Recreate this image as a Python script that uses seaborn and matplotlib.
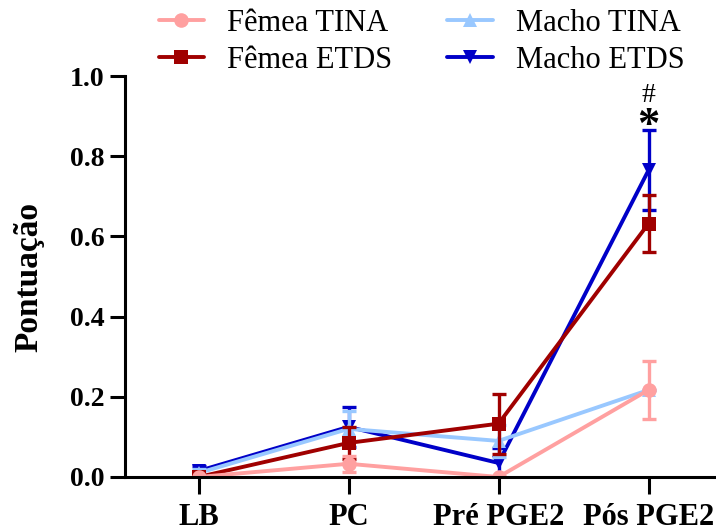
import matplotlib
matplotlib.use("Agg")
import matplotlib.pyplot as plt
import seaborn as sns
import numpy as np

# Data (mean +/- error)
time_points = ["LB", "PC", "Pré PGE2", "Pós PGE2"]

femea_tina = [0.0, 0.033, 0.0, 0.217]
femea_tina_err = [0.0, 0.02, 0.0, 0.073]

femea_etds = [0.0, 0.085, 0.133, 0.632]
femea_etds_err = [0.0, 0.04, 0.075, 0.072]

macho_tina = [0.01, 0.12, 0.09, 0.217]
macho_tina_err = [0.01, 0.045, 0.04, 0.0]

macho_etds = [0.015, 0.125, 0.035, 0.765]
macho_etds_err = [0.012, 0.05, 0.037, 0.1]

sns.set_style("ticks")
plt.rcParams["font.family"] = ["Liberation Serif", "DejaVu Serif"]
plt.rcParams["text.color"] = "black"
plt.rcParams["axes.labelcolor"] = "black"
plt.rcParams["axes.edgecolor"] = "black"
plt.rcParams["xtick.color"] = "black"
plt.rcParams["ytick.color"] = "black"

fig = plt.figure(figsize=(7.16, 5.31), dpi=100)
ax = fig.add_axes([0.1746, 0.1017, 0.8254, 0.755])

x = np.arange(len(time_points))

# order of drawing: last one ends on top
series = [
    ("Macho ETDS", macho_etds, macho_etds_err, "#0000C8", "v"),
    ("Macho TINA", macho_tina, macho_tina_err, "#99C8FF", "^"),
    ("Fêmea ETDS", femea_etds, femea_etds_err, "#A00000", "s"),
    ("Fêmea TINA", femea_tina, femea_tina_err, "#FFA0A0", "o"),
]

for name, vals, errs, col, mk in series:
    ax.errorbar(x, vals, yerr=errs, fmt="none", ecolor=col, elinewidth=2.4,
                capsize=5, capthick=2.4)
    sns.lineplot(x=x, y=vals, color=col, marker=mk, markersize=10.5,
                 markeredgewidth=0, linewidth=2.8, label=name, ax=ax)

ax.set_xlim(-0.49, 3.45)
ax.set_ylim(0, 1.0)
ax.set_yticks([0.0, 0.2, 0.4, 0.6, 0.8, 1.0])
ax.set_yticklabels(["0.0", "0.2", "0.4", "0.6", "0.8", "1.0"])
ax.set_xticks(x)
ax.set_xticklabels(time_points)
for lab in ax.get_yticklabels():
    lab.set_fontweight("bold")
    lab.set_fontsize(20)
for lab in ax.get_xticklabels():
    lab.set_fontweight("bold")
    lab.set_fontsize(22)
ax.tick_params(axis="both", length=11, width=2.2, pad=4)
ax.tick_params(axis="x", length=12, pad=7)
ax.set_ylabel("Pontuação", fontsize=24, fontweight="bold", labelpad=18)
ax.set_xlabel("")

sns.despine(ax=ax)
ax.spines["left"].set_linewidth(2.2)
ax.spines["bottom"].set_linewidth(2.2)

# significance marks over Pós PGE2
ax.text(3, 0.875, "*", ha="center", va="center", fontsize=32, fontweight="bold")
ax.text(3, 0.952, "#", ha="center", va="center", fontsize=20)

# legend above the axes
handles, labels = ax.get_legend_handles_labels()
order = ["Fêmea TINA", "Fêmea ETDS", "Macho TINA", "Macho ETDS"]
hmap = dict(zip(labels, handles))
ax.get_legend().remove()
fig.legend([hmap[k] for k in order], order, loc="upper left",
           bbox_to_anchor=(0.183, 1.035), ncol=2, frameon=False,
           fontsize=22, handlelength=1.5, columnspacing=1.8,
           labelspacing=0.25, handletextpad=0.75)

fig.savefig("out.png", dpi=100)
